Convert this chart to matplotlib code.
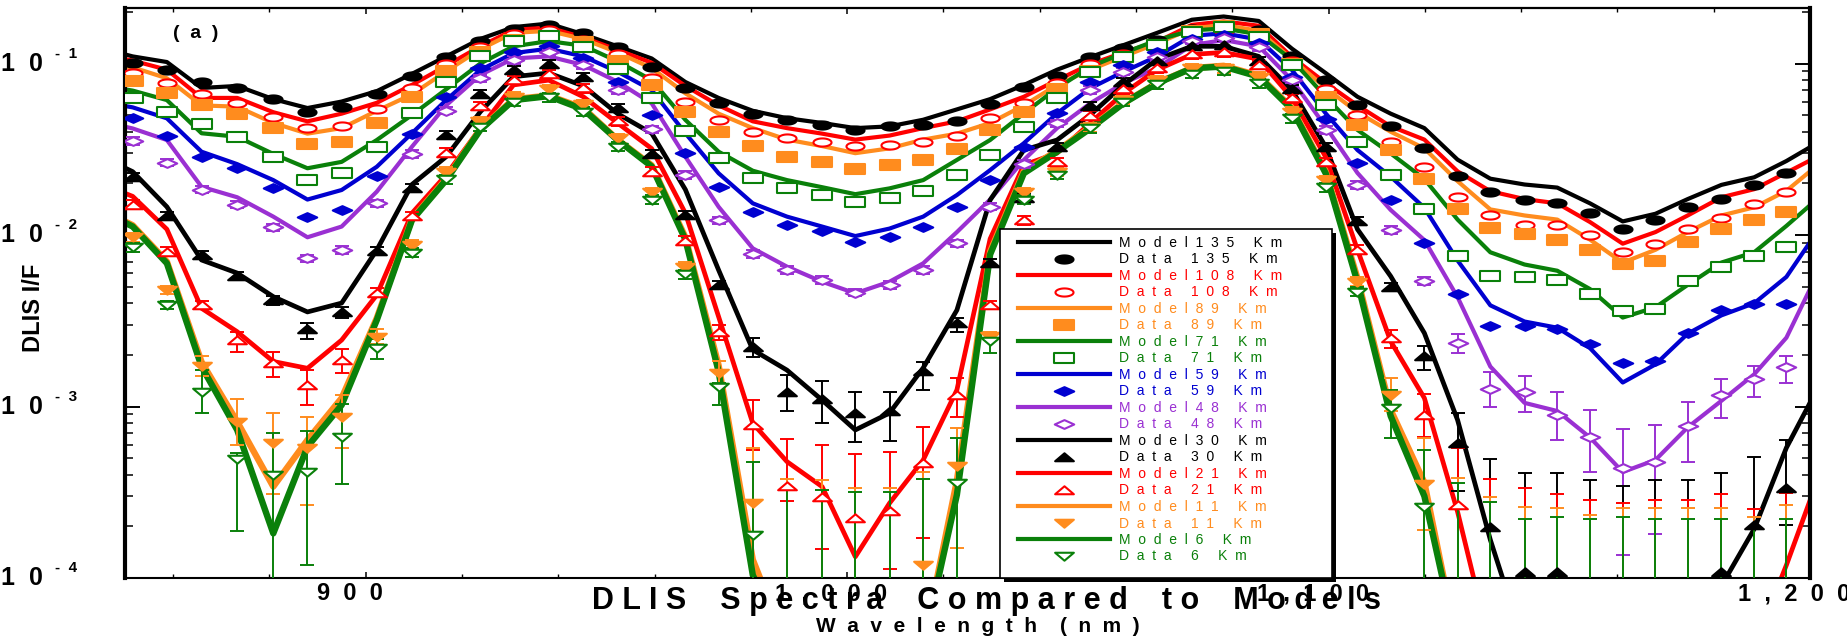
import numpy as np
import matplotlib
matplotlib.use("Agg")
import matplotlib.pyplot as plt
from matplotlib.path import Path
from matplotlib.lines import Line2D
from matplotlib.patches import Rectangle
from matplotlib.ticker import FixedLocator, LogLocator, NullFormatter
import matplotlib.transforms as mtransforms
from matplotlib import font_manager

_names = {f.name for f in font_manager.fontManager.ttflist}
NARROW = 'Liberation Sans Narrow' if 'Liberation Sans Narrow' in _names else 'Liberation Sans'
SANS = 'Liberation Sans'

# ---------------- data ----------------
wavelength = [851.6, 858.7, 865.9, 873.3, 880.8, 887.9, 895.0, 902.3, 909.6, 916.7,
              923.8, 930.7, 938.0, 945.2, 952.3, 959.4, 966.4, 973.3, 980.4, 987.5,
              994.8, 1001.7, 1008.8, 1015.8, 1022.8, 1029.7, 1036.7, 1043.6, 1050.5, 1057.4,
              1064.4, 1071.6, 1078.2, 1085.5, 1092.4, 1099.4, 1106.0, 1112.9, 1119.9, 1126.8,
              1133.6, 1140.7, 1147.5, 1154.3, 1161.1, 1167.9, 1174.6, 1181.6, 1188.4, 1195.1]
model_wavelength = [850.0] + wavelength + [1200.0]

altitudes = ["135", "108", "89", "71", "59", "48", "30", "21", "11", "6"]

model135 = [0.113, 0.110, 0.102, 0.072, 0.074, 0.062, 0.055, 0.060, 0.069, 0.087,
            0.110, 0.139, 0.163, 0.171, 0.148, 0.126, 0.107, 0.078, 0.063, 0.053,
            0.048, 0.045, 0.042, 0.043, 0.047, 0.054, 0.062, 0.075, 0.092, 0.109,
            0.128, 0.151, 0.180, 0.188, 0.177, 0.122, 0.088, 0.064, 0.051, 0.042,
            0.0275, 0.0213, 0.0197, 0.0189, 0.0153, 0.0120, 0.0133, 0.0162, 0.0196, 0.0217,
            0.0270, 0.0325]
data135 = [0.101, 0.092, 0.078, 0.072, 0.062, 0.052, 0.056, 0.066, 0.085, 0.109,
           0.136, 0.158, 0.168, 0.150, 0.124, 0.095, 0.072, 0.059, 0.051, 0.047,
           0.044, 0.041, 0.043, 0.044, 0.046, 0.058, 0.073, 0.085, 0.109, 0.123,
           0.138, 0.160, 0.168, 0.157, 0.111, 0.080, 0.057, 0.043, 0.032, 0.022,
           0.0178, 0.0159, 0.0154, 0.0135, 0.0109, 0.0123, 0.0146, 0.0163, 0.0195, 0.0230]

model108 = [0.106, 0.104, 0.092, 0.063, 0.063, 0.052, 0.046, 0.051, 0.059, 0.075,
            0.097, 0.126, 0.157, 0.162, 0.142, 0.120, 0.101, 0.074, 0.057, 0.046,
            0.042, 0.039, 0.036, 0.038, 0.042, 0.046, 0.054, 0.064, 0.080, 0.099,
            0.116, 0.134, 0.168, 0.176, 0.166, 0.109, 0.077, 0.057, 0.043, 0.036,
            0.0235, 0.0180, 0.0162, 0.0153, 0.0119, 0.0089, 0.0104, 0.0130, 0.0166, 0.0185,
            0.0231, 0.0272]
data108 = [0.088, 0.077, 0.066, 0.059, 0.049, 0.042, 0.043, 0.054, 0.072, 0.099,
           0.124, 0.148, 0.156, 0.137, 0.113, 0.082, 0.060, 0.047, 0.040, 0.037,
           0.035, 0.033, 0.0335, 0.035, 0.038, 0.048, 0.059, 0.077, 0.100, 0.113,
           0.127, 0.148, 0.154, 0.144, 0.103, 0.071, 0.050, 0.035, 0.0249, 0.0166,
           0.0130, 0.0115, 0.0115, 0.0100, 0.0080, 0.0089, 0.0109, 0.0126, 0.0151, 0.0178]

model89 = [0.096, 0.095, 0.082, 0.057, 0.056, 0.045, 0.039, 0.042, 0.053, 0.066,
           0.090, 0.121, 0.151, 0.155, 0.139, 0.116, 0.094, 0.067, 0.051, 0.042,
           0.036, 0.033, 0.030, 0.032, 0.036, 0.039, 0.045, 0.057, 0.075, 0.092,
           0.110, 0.131, 0.160, 0.168, 0.155, 0.106, 0.072, 0.052, 0.040, 0.032,
           0.0206, 0.0141, 0.0130, 0.0123, 0.0094, 0.0069, 0.0082, 0.0104, 0.0130, 0.0145,
           0.0181, 0.0235]
data89 = [0.079, 0.067, 0.057, 0.051, 0.042, 0.034, 0.035, 0.045, 0.064, 0.090,
          0.117, 0.137, 0.145, 0.134, 0.104, 0.075, 0.052, 0.040, 0.033, 0.0286,
          0.0266, 0.0243, 0.0256, 0.0274, 0.0316, 0.041, 0.052, 0.071, 0.091, 0.109,
          0.128, 0.155, 0.165, 0.148, 0.099, 0.064, 0.044, 0.0311, 0.0212, 0.0141,
          0.0110, 0.0102, 0.0094, 0.0082, 0.0068, 0.0071, 0.0091, 0.0108, 0.0123, 0.0137]

model71 = [0.0707, 0.0695, 0.0612, 0.0392, 0.0374, 0.0297, 0.0245, 0.0267, 0.0358, 0.0501,
           0.0707, 0.100, 0.126, 0.135, 0.127, 0.103, 0.080, 0.0469, 0.0306, 0.0237,
           0.0209, 0.0190, 0.0173, 0.0187, 0.0209, 0.0274, 0.0358, 0.0512, 0.0717, 0.0958,
           0.115, 0.137, 0.156, 0.160, 0.148, 0.105, 0.064, 0.041, 0.0299, 0.0212,
           0.0123, 0.00793, 0.00673, 0.00619, 0.00484, 0.0033, 0.00379, 0.00512, 0.00691, 0.00793,
           0.0113, 0.0149]
data71 = [0.0632, 0.0523, 0.0444, 0.0374, 0.0286, 0.0209, 0.0231, 0.0327, 0.0512, 0.0783,
          0.110, 0.136, 0.145, 0.125, 0.0925, 0.0627, 0.0406, 0.0280, 0.0214, 0.0187,
          0.0171, 0.0156, 0.0164, 0.0181, 0.0224, 0.0293, 0.0425, 0.0627, 0.0896, 0.109,
          0.128, 0.153, 0.163, 0.143, 0.098, 0.0573, 0.035, 0.0224, 0.0141, 0.00759,
          0.00577, 0.00571, 0.00547, 0.00454, 0.00359, 0.00369, 0.00541, 0.00647, 0.0075, 0.00846]

model59 = [0.0565, 0.0555, 0.0479, 0.0306, 0.0259, 0.0209, 0.0161, 0.0183, 0.025, 0.0392,
           0.0612, 0.0916, 0.115, 0.122, 0.110, 0.0896, 0.070, 0.0392, 0.0229, 0.0153,
           0.0128, 0.0112, 0.00986, 0.0109, 0.0128, 0.0171, 0.0239, 0.0343, 0.0512, 0.0717,
           0.0896, 0.110, 0.145, 0.150, 0.138, 0.0916, 0.0512, 0.0313, 0.0219, 0.0144,
           0.0071, 0.00389, 0.00313, 0.00288, 0.00219, 0.00138, 0.00176, 0.00266, 0.0034, 0.004,
           0.0057, 0.00908]
data59 = [0.0479, 0.0378, 0.0286, 0.0245, 0.0187, 0.0128, 0.0139, 0.0221, 0.0388, 0.0635,
          0.0938, 0.117, 0.127, 0.107, 0.0783, 0.0502, 0.0299, 0.0191, 0.0137, 0.0114,
          0.0105, 0.00914, 0.00977, 0.0111, 0.0146, 0.0209, 0.0327, 0.0512, 0.0783, 0.098,
          0.117, 0.139, 0.147, 0.131, 0.0838, 0.0473, 0.0262, 0.016, 0.00894, 0.00454,
          0.00296, 0.00296, 0.00283, 0.00232, 0.00179, 0.00183, 0.00269, 0.00365, 0.00394, 0.00394]

model48 = [0.0428, 0.0418, 0.0358, 0.0191, 0.0166, 0.0128, 0.0097, 0.0112, 0.0179, 0.0327,
           0.057, 0.0857, 0.107, 0.110, 0.098, 0.0783, 0.0586, 0.0286, 0.0146, 0.00836,
           0.00654, 0.00534, 0.00457, 0.00534, 0.00684, 0.0104, 0.0161, 0.0274, 0.042, 0.0586,
           0.0767, 0.0942, 0.128, 0.137, 0.126, 0.080, 0.0428, 0.023, 0.014, 0.00934,
           0.00434, 0.00171, 0.00105, 0.000941, 0.00066, 0.000415, 0.000488, 0.000756, 0.00108, 0.00154,
           0.00252, 0.00484]
data48 = [0.0353, 0.0264, 0.0184, 0.0150, 0.0111, 0.00731, 0.00818, 0.0153, 0.0297, 0.0531,
          0.082, 0.105, 0.116, 0.098, 0.070, 0.0413, 0.0224, 0.0122, 0.00775, 0.00625,
          0.00547, 0.00461, 0.00511, 0.00625, 0.00895, 0.0146, 0.0259, 0.0448, 0.070, 0.0896,
          0.109, 0.136, 0.140, 0.124, 0.080, 0.041, 0.0196, 0.0107, 0.00541, 0.00236,
          0.00127, 0.00122, 0.000892, 0.00066, 0.000438, 0.000475, 0.000765, 0.00116, 0.00144, 0.00169]

model30 = [0.0246, 0.0234, 0.0146, 0.00715, 0.006, 0.00437, 0.00356, 0.00401, 0.00818, 0.0197,
           0.0286, 0.0523, 0.0838, 0.088, 0.074, 0.051, 0.0392, 0.0184, 0.00625, 0.00214,
           0.00163, 0.00109, 0.00073, 0.000916, 0.00168, 0.00365, 0.016, 0.0313, 0.0358, 0.0502,
           0.075, 0.106, 0.126, 0.126, 0.110, 0.070, 0.0327, 0.0108, 0.00575, 0.00268,
           0.000834, 0.000167, 4e-5, 4e-5, 4e-5, 4e-5, 4e-5, 4e-5, 9e-5, 0.000193,
           0.000575, 0.00105]
data30 = [0.0219, 0.0129, 0.00764, 0.00577, 0.00418, 0.00282, 0.00357, 0.0081, 0.0187, 0.0383,
          0.0664, 0.0916, 0.100, 0.083, 0.0548, 0.0297, 0.0131, 0.00511, 0.00223, 0.00122,
          0.0011, 0.000913, 0.000945, 0.0016, 0.00306, 0.00684, 0.0164, 0.0327, 0.0565, 0.0783,
          0.103, 0.126, 0.128, 0.103, 0.0707, 0.0327, 0.012, 0.00495, 0.00196, 0.000615,
          0.000198, 0.000108, 0.000108, 5e-5, 5e-5, 5e-5, 5e-5, 0.000108, 0.000204, 0.000337]

model21 = [0.0175, 0.0168, 0.0108, 0.00374, 0.00273, 0.00183, 0.00167, 0.00244, 0.00447, 0.0134,
           0.0224, 0.042, 0.075, 0.080, 0.064, 0.045, 0.0319, 0.0134, 0.00334, 0.000798,
           0.000477, 0.000341, 0.000133, 0.000273, 0.000488, 0.00125, 0.0095, 0.0256, 0.030, 0.045,
           0.067, 0.092, 0.113, 0.116, 0.106, 0.063, 0.0285, 0.0082, 0.0024, 0.00112,
           0.000243, 4e-5, 4e-5, 4e-5, 4e-5, 4e-5, 4e-5, 4e-5, 4e-5, 4e-5,
           0.000119, 0.000283]
data21 = [0.015, 0.008, 0.00391, 0.00244, 0.00179, 0.00134, 0.00187, 0.00462, 0.0129, 0.0302,
          0.0565, 0.080, 0.087, 0.0717, 0.046, 0.0234, 0.00927, 0.00273, 0.00078, 0.000344,
          0.000296, 0.000225, 0.000247, 0.00047, 0.00117, 0.00391, 0.0122, 0.0267, 0.0497, 0.0707,
          0.0938, 0.113, 0.116, 0.098, 0.0627, 0.0267, 0.0082, 0.0025, 0.000892, 0.000268,
          5e-5, 5e-5, 5e-5, 5e-5, 5e-5, 5e-5, 5e-5, 5e-5, 5e-5, 5e-5]

model11 = [0.0120, 0.0114, 0.0070, 0.00182, 0.000815, 0.000341, 0.000638, 0.00112, 0.00328, 0.0124,
           0.0212, 0.0415, 0.062, 0.065, 0.055, 0.036, 0.0255, 0.0097, 0.00174, 0.000128,
           4e-5, 4e-5, 4e-5, 4e-5, 4e-5, 0.00037, 0.008, 0.0235, 0.031, 0.0425,
           0.059, 0.077, 0.094, 0.097, 0.085, 0.055, 0.0235, 0.0056, 0.000954, 0.00036,
           4e-5, 4e-5, 4e-5, 4e-5, 4e-5, 4e-5, 4e-5, 4e-5, 4e-5, 4e-5,
           4e-5, 4e-5]
data11 = [0.0097, 0.00478, 0.00172, 0.000815, 0.000615, 0.00057, 0.000872, 0.00255, 0.0088, 0.0234,
          0.046, 0.064, 0.0707, 0.058, 0.0366, 0.0177, 0.00654, 0.00156, 0.000273, 5e-5,
          5e-5, 5e-5, 5e-5, 0.000119, 0.00045, 0.00258, 0.0177, 0.0234, 0.0425, 0.0612,
          0.080, 0.0938, 0.0938, 0.0838, 0.0523, 0.0209, 0.00534, 0.00117, 0.000353, 5e-5,
          5e-5, 5e-5, 5e-5, 5e-5, 5e-5, 5e-5, 5e-5, 5e-5, 5e-5, 5e-5]

model6 = [0.0118, 0.0112, 0.00684, 0.00171, 0.00073, 0.000182, 0.000583, 0.00102, 0.00319, 0.0122,
          0.0209, 0.041, 0.0612, 0.0645, 0.054, 0.0358, 0.0251, 0.0094, 0.0016, 0.000104,
          4e-5, 4e-5, 4e-5, 4e-5, 4e-5, 0.000306, 0.0077, 0.0229, 0.0306, 0.0418,
          0.0586, 0.0767, 0.0938, 0.096, 0.0838, 0.054, 0.0229, 0.0053, 0.00088, 0.0003,
          4e-5, 4e-5, 4e-5, 4e-5, 4e-5, 4e-5, 4e-5, 4e-5, 4e-5, 4e-5,
          4e-5, 4e-5]
data6 = [0.00848, 0.00391, 0.00122, 0.000492, 0.000399, 0.000417, 0.000661, 0.00218, 0.00789, 0.0211,
         0.0428, 0.060, 0.0635, 0.0523, 0.0327, 0.0161, 0.0059, 0.0013, 0.000178, 5e-5,
         5e-5, 5e-5, 5e-5, 5e-5, 0.00036, 0.0024, 0.0161, 0.0224, 0.0418, 0.060,
         0.0755, 0.0873, 0.0907, 0.0767, 0.0479, 0.019, 0.00467, 0.000976, 0.00026, 5e-5,
         5e-5, 5e-5, 5e-5, 5e-5, 5e-5, 5e-5, 5e-5, 5e-5, 5e-5, 5e-5]

# error bars: default relative half-size, plus (low, high) bounds read for larger bars
err_default = {"48": 0.05, "30": 0.055, "21": 0.06, "11": 0.06, "6": 0.06}
err48 = {38: (0.00511, 0.00571), 39: (0.00204, 0.00266), 40: (0.000994, 0.00158),
         41: (0.000925, 0.0015), 42: (0.000635, 0.00122), 43: (0.000415, 0.00095),
         44: (0.000137, 0.000735), 45: (0.00018, 0.000777), 46: (0.000475, 0.00106),
         47: (0.000852, 0.00144), 48: (0.00114, 0.00173), 49: (0.00138, 0.00197)}
err30 = {4: (0.0039, 0.0044), 5: (0.00248, 0.00307), 6: (0.00327, 0.00382),
         18: (0.00195, 0.0025), 19: (0.000939, 0.00153), 20: (0.000805, 0.0014),
         21: (0.000623, 0.00122), 22: (0.00063, 0.00122), 23: (0.00124, 0.00182),
         24: (0.00273, 0.00327), 38: (0.00163, 0.00224), 39: (0.000322, 0.000916),
         40: (1e-5, 0.000494), 41: (1e-5, 0.00041), 42: (1e-5, 0.00041), 43: (1e-5, 0.000375),
         44: (1e-5, 0.000342), 45: (1e-5, 0.000371), 46: (1e-5, 0.000371), 47: (1e-5, 0.00041),
         48: (1e-5, 0.00051), 49: (0.000204, 0.000635)}
err21 = {3: (0.00209, 0.00273), 4: (0.00148, 0.00209), 5: (0.00102, 0.00163), 6: (0.00156, 0.00216),
         17: (0.00244, 0.00299), 18: (0.000557, 0.00109), 19: (0.00028, 0.000646),
         20: (0.000148, 0.000596), 21: (9.5e-5, 0.000526), 22: (0.000113, 0.000544),
         23: (0.00017, 0.000763), 24: (0.000872, 0.00146), 37: (0.00218, 0.00279),
         38: (0.000667, 0.00119), 39: (1e-5, 0.00057), 40: (1e-5, 0.000376), 41: (1e-5, 0.000337),
         42: (1e-5, 0.000307), 43: (1e-5, 0.000286), 44: (1e-5, 0.000275), 45: (1e-5, 0.000286),
         46: (1e-5, 0.000286), 47: (1e-5, 0.000307), 48: (1e-5, 0.000253), 49: (1e-5, 0.000315)}
err11 = {2: (0.0015, 0.00197), 3: (0.0006, 0.0011), 4: (0.000309, 0.000913), 5: (0.000267, 0.000865),
         6: (0.00057, 0.00117), 7: (0.00232, 0.00282), 17: (0.00132, 0.00185), 18: (1e-5, 0.00057),
         19: (1e-5, 0.000376), 20: (1e-5, 0.000371), 21: (1e-5, 0.000336), 22: (1e-5, 0.000336),
         23: (1e-5, 0.000417), 24: (0.000149, 0.000746), 37: (0.00094, 0.00146), 38: (0.00019, 0.000653),
         39: (1e-5, 0.000381), 40: (1e-5, 0.000298), 41: (1e-5, 0.00026), 42: (1e-5, 0.000256),
         43: (1e-5, 0.000233), 44: (1e-5, 0.000256), 45: (1e-5, 0.000256), 46: (1e-5, 0.000256),
         47: (1e-5, 0.000256), 48: (1e-5, 0.000227), 49: (1e-5, 0.000265)}
err6 = {2: (0.00092, 0.00163), 3: (0.000189, 0.000533), 4: (1e-5, 0.000703), 5: (0.000119, 0.000723),
        6: (0.000353, 0.00104), 7: (0.0019, 0.00247), 17: (0.00102, 0.00137), 18: (1e-5, 0.000477),
        19: (1e-5, 0.000326), 20: (1e-5, 0.000326), 21: (1e-5, 0.000319), 22: (1e-5, 0.000319),
        23: (1e-5, 0.000378), 24: (1e-5, 0.000653), 25: (0.00205, 0.00268), 37: (0.000653, 0.00125),
        38: (1e-5, 0.000557), 39: (1e-5, 0.000357), 40: (1e-5, 0.000279), 41: (1e-5, 0.000221),
        42: (1e-5, 0.000227), 43: (1e-5, 0.00022), 44: (1e-5, 0.000227), 45: (1e-5, 0.00022),
        46: (1e-5, 0.00022), 47: (1e-5, 0.00022), 48: (1e-5, 0.000193), 49: (1e-5, 0.00022)}

x_tick_values = [900, 1000, 1100, 1200]
x_tick_labels = ["900", "1,000", "1,100", "1,200"]
y_tick_exponents = [-1, -2, -3, -4]

# ---------------- styling ----------------
BLACK, RED, ORANGE, GREEN, BLUE, PURPLE = '#000000', '#FF0000', '#FF8C1E', '#0A800A', '#0000D0', '#9A30D2'


def poly(pts):
    pts = list(pts)
    return Path(pts + [pts[0]], [Path.MOVETO] + [Path.LINETO] * (len(pts) - 1) + [Path.CLOSEPOLY])


_t = np.linspace(0, 2 * np.pi, 41)[:-1]
M_ELLIPSE = poly(zip(np.cos(_t), 0.45 * np.sin(_t)))
M_RECT = poly([(-1, -0.48), (1, -0.48), (1, 0.48), (-1, 0.48)])
M_DIAMOND = poly([(-1, 0), (0, 0.45), (1, 0), (0, -0.45)])
M_TRI_UP = poly([(-1, -0.4), (1, -0.4), (0, 0.45)])
M_TRI_DN = poly([(-1, 0.4), (1, 0.4), (0, -0.45)])

models = [model135, model108, model89, model71, model59, model48, model30, model21, model11, model6]
datas = [data135, data108, data89, data71, data59, data48, data30, data21, data11, data6]
colors = [BLACK, RED, ORANGE, GREEN, BLUE, PURPLE, BLACK, RED, ORANGE, GREEN]
markers = [M_ELLIPSE, M_ELLIPSE, M_RECT, M_RECT, M_DIAMOND, M_DIAMOND, M_TRI_UP, M_TRI_UP, M_TRI_DN, M_TRI_DN]
filled = [True, False, True, False, True, False, True, False, True, False]
msizes = [13, 13, 14, 14, 14, 14, 13.5, 13.5, 13.5, 13.5]
line_w = [3.0, 3.0, 3.0, 3.0, 3.0, 3.0, 3.4, 3.4, 4.6, 4.6]
errs = {"48": err48, "30": err30, "21": err21, "11": err11, "6": err6}


def spaced(s, gap=2, wordgap=5):
    return (' ' * wordgap).join((' ' * gap).join(w) for w in s.split(' '))


W, H = 1847, 638
fig = plt.figure(figsize=(W / 100, H / 100), dpi=100)
L, R, T, B = 125, 1810, 8, 578
ax = fig.add_axes([L / W, 1 - B / H, (R - L) / W, (B - T) / H])
ax.set_yscale('log')
ax.set_xlim(850, 1200)
ax.set_ylim(1e-4, 0.2107)

xw = np.array(wavelength)
for mdl, c, lw in zip(models, colors, line_w):
    ax.plot(model_wavelength, mdl, color=c, lw=lw, solid_joinstyle='round', zorder=2)

for name, d, c, m, f, ms in zip(altitudes, datas, colors, markers, filled, msizes):
    v = np.array(d, float)
    if name in errs:
        rel = err_default[name]
        lo = v / (1 + rel)
        hi = v * (1 + rel)
        for i, (a, b) in errs[name].items():
            lo[i], hi[i] = a, b
        ax.errorbar(xw, v, yerr=[v - lo, hi - v], fmt='none', ecolor=c, elinewidth=1.4,
                    capsize=5, capthick=1.4, zorder=3)
    ax.plot(xw, v, ls='none', marker=m, ms=ms, mfc=(c if f else 'white'), mec=c,
            mew=1.5, zorder=4)

# axes styling
for side, lw in [('left', 3.0), ('right', 3.0), ('top', 1.6), ('bottom', 1.5)]:
    ax.spines[side].set_linewidth(lw)
ax.xaxis.set_major_locator(FixedLocator(x_tick_values))
ax.xaxis.set_minor_locator(FixedLocator(np.arange(860, 1200, 20)))
ax.tick_params(axis='x', which='major', direction='in', top=True, bottom=True, length=4.3, width=1.1,
               labelbottom=False)
ax.tick_params(axis='x', which='minor', direction='in', top=True, bottom=True, length=2.6, width=1.0)
ax.yaxis.set_major_locator(LogLocator(base=10, numticks=10))
ax.yaxis.set_minor_locator(LogLocator(base=10, subs=np.arange(2, 10), numticks=20))
ax.yaxis.set_minor_formatter(NullFormatter())
ax.tick_params(axis='y', which='major', direction='in', left=True, right=True, length=11, width=1.4,
               labelleft=False)
ax.tick_params(axis='y', which='minor', direction='in', left=True, right=True, length=5.5, width=1.1)

# y tick labels  "1 0" with superscript exponent
ytr = mtransforms.blended_transform_factory(ax.transAxes, ax.transData)
for e in y_tick_exponents:
    val = 10.0 ** e
    ax.text((43 - L) / (R - L), val, '1  0', transform=ytr, ha='right', va='center',
            fontsize=18, fontweight='bold', family=SANS, clip_on=False)
    ax.text((55 - L) / (R - L), val * 10 ** (10 / 171.5), '-  ' + str(-e), transform=ytr,
            ha='left', va='center', fontsize=11, fontweight='bold', family=SANS, clip_on=False)

# x tick labels
xtr = mtransforms.offset_copy(mtransforms.blended_transform_factory(ax.transData, ax.transAxes),
                              fig=fig, x=-16, y=0, units='dots')
for xv, lab in zip(x_tick_values, x_tick_labels):
    ax.text(xv, -16 / (B - T), spaced(lab, gap=2), transform=xtr, ha='center', va='center',
            fontsize=17, fontweight='bold', family=SANS, clip_on=False)

# titles
fig.text(987 / W, 1 - 601 / H, spaced('DLIS Spectra Compared to Models', gap=1, wordgap=4),
         ha='center', va='center', fontsize=22, fontweight='bold', family=NARROW, zorder=10)
fig.text(978 / W, 1 - 626 / H, spaced('Wavelength (nm)', gap=2, wordgap=4),
         ha='center', va='center', fontsize=15, fontweight='bold', family=NARROW)
fig.text(33 / W, 1 - 308 / H, 'DLIS I/F', rotation=90, ha='center', va='center',
         fontsize=17, fontweight='bold', family=NARROW)
fig.text(196 / W, 1 - 33 / H, '(  a  )', ha='center', va='center', fontsize=14,
         fontweight='bold', family=SANS)

# legend box with black shadow
bx0, bx1, by0, by1 = 1000, 1332, 229, 578
fig.add_artist(Rectangle(((bx0 + 4) / W, 1 - (by1 + 4) / H), (bx1 - bx0) / W, (by1 - by0) / H,
                         transform=fig.transFigure, facecolor='black', edgecolor='none', zorder=5))
fig.add_artist(Rectangle((bx0 / W, 1 - by1 / H), (bx1 - bx0) / W, (by1 - by0) / H,
                         transform=fig.transFigure, facecolor='white', edgecolor='black',
                         linewidth=1.2, zorder=5.5))

handles, labels, lab_colors = [], [], []
for name, c, m, f, ms in zip(altitudes, colors, markers, filled, msizes):
    handles.append(Line2D([], [], color=c, lw=3.0))
    labels.append(spaced('Model' + name + ' Km'))
    handles.append(Line2D([], [], ls='none', marker=m, ms=ms, mfc=(c if f else 'white'), mec=c, mew=1.5))
    labels.append(spaced('Data ' + name + ' Km'))
    lab_colors += [c, c]

leg = fig.legend(handles, labels, loc='upper left', bbox_to_anchor=(1018 / W, 1 - 236 / H),
                 bbox_transform=fig.transFigure, frameon=False, borderpad=0, borderaxespad=0,
                 handlelength=6.6, handletextpad=0.65, labelspacing=0.18, numpoints=1,
                 prop={'family': SANS, 'size': 10})
leg.set_zorder(6)
for txt, c in zip(leg.get_texts(), lab_colors):
    txt.set_color(c)

fig.savefig('out.png', dpi=100)
